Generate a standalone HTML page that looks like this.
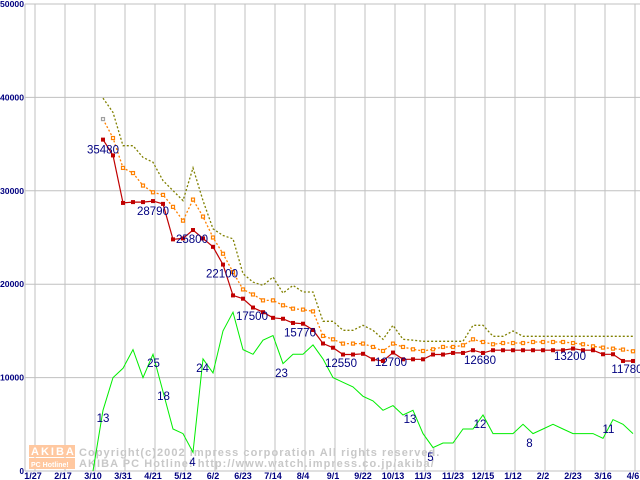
<!DOCTYPE html>
<html><head><meta charset="utf-8"><style>
body{margin:0;background:#fff}
svg{display:block}
text{font-family:"Liberation Sans","DejaVu Sans",sans-serif}
</style></head><body>
<svg id="chart" width="640" height="480" viewBox="0 0 640 480" xmlns="http://www.w3.org/2000/svg">
<g id="grid"></g>
<g id="wm">
 <rect x="29" y="445" width="46" height="12" fill="#ffc8a0"/>
 <rect x="29" y="458" width="46" height="11" fill="#ffc8a0"/>
 <text x="31" y="455" font-size="11" font-weight="bold" fill="#fff" letter-spacing="2">AKIBA</text>
 <text x="31" y="467" font-size="7" font-weight="bold" fill="#fff">PC Hotline!</text>
 <text x="79" y="456" font-family="Liberation Mono,monospace" font-size="11" font-weight="bold" fill="#c8c8c8" letter-spacing="1.05">Copyright(c)2002 impress corporation All rights reserved.</text>
 <text x="79" y="467" font-family="Liberation Mono,monospace" font-size="11" font-weight="bold" fill="#c8c8c8" letter-spacing="1.05">AKIBA PC Hotline!  http://www.watch.impress.co.jp/akiba/</text>
</g>
<g id="series"></g>
<g id="labels"></g>
</svg>
<script>
const xLabels=["1/27","2/17","3/10","3/31","4/21","5/12","6/2","6/23","7/14","8/4","9/1","9/22","10/13","11/3","11/23","12/15","1/12","2/2","2/23","3/16","4/6"];
const yTicks=[0,10000,20000,30000,40000,50000];
const startWeek=7;
const minPrice=[35480,33790,28700,28790,28790,28900,28600,24800,24900,25800,24900,24000,22100,18800,18450,17500,17000,16400,16300,15850,15770,15100,13650,13200,12470,12470,12550,11960,11780,12680,11960,11960,11960,12470,12470,12640,12640,12930,12640,12930,12930,12930,12930,12930,12930,12930,12930,13110,12930,12930,12500,12500,11780,11780];
const avgPrice=[37680,35650,32450,31900,30560,29840,29560,28280,26800,29060,27240,25000,23260,21300,19440,18900,18270,18270,17740,17380,17280,17090,14460,14100,13640,13640,13640,13280,12850,13640,13280,13030,12850,13030,13280,13280,13460,14100,13810,13570,13700,13700,13700,13810,13810,13810,13810,13700,13570,13350,13210,13100,13000,12820];
const maxPrice=[39920,38390,34830,34830,33580,33050,31090,30020,28950,32450,28950,25930,25210,24860,21120,20230,19870,20760,19050,19870,19160,19160,16030,16030,15060,15060,15600,15060,14100,15600,14100,14000,13890,13890,13890,13890,13890,15600,15600,14420,14420,14990,14420,14420,14420,14420,14420,14420,14420,14420,14420,14420,14420,14420];
const shopStart=6;
const shopCount=[0,13,20,22,26,20,25,17,9,8,4,24,21,30,34,26,25,28,29,23,25,25,27,24,20,19,18,16,15,13,14,12,13,8,5,6,6,9,9,12,8,8,8,10,8,9,10,9,8,8,8,7,11,10,8];
const priceLabels=[[7,"35480",0,14],[10,"28790",20,13],[16,"25800",-1,13],[19,"22100",-1,13],[22,"17500",-1,12.5],[27,"15770",-3,13],[31,"12550",-2,12.5],[36,"12700",-2,13.5],[45,"12680",-3,11],[54,"13200",-3,11.5],[60,"11780",-6,12]];
const shopLabels=[[7,"13",0,11.7],[12,"25",0.5,12.7],[13,"18",0.5,8.4],[16,"4",-0.5,13.7],[17,"24",-0.5,13],[25,"23",-1.5,13.4],[38,"13",-3,12.7],[40,"5",-2.5,13.3],[45,"12",-3,13],[50,"8",-3.5,13.4],[58,"11",-4.5,13.4]];
const NS="http://www.w3.org/2000/svg";
function X(w){return 33+10*w;}
function Y(v){return 4+(50000-v)*467/50000;}
function YS(c){return 471-c*4.67;}
function mk(tag,attrs,parent){const e=document.createElementNS(NS,tag);for(const k in attrs)e.setAttribute(k,attrs[k]);parent.appendChild(e);return e;}
const grid=document.getElementById('grid'),ser=document.getElementById('series'),lab=document.getElementById('labels');
yTicks.forEach(v=>{
 const l=mk('line',{x1:25,x2:640,y1:Y(v),y2:Y(v),stroke:'#c0c0c0','stroke-width':1},grid);
 
 
 const s=String(v);
 const a={x:24,y:Y(v)+3,'text-anchor':'end','font-size':8,'font-weight':'bold',fill:'#000080'};
 if(s.length>1){a.textLength=24;a.lengthAdjust='spacingAndGlyphs';}
 const t=mk('text',a,grid);
 t.textContent=s;
 
 
});
mk('line',{x1:25,x2:25,y1:4,y2:471,stroke:'#c0c0c0'},grid);
xLabels.forEach((s,i)=>{
 const w=i*3;
 const l=mk('line',{x1:X(w)+2,x2:X(w)+2,y1:4,y2:471,stroke:'#c0c0c0'},grid);
 
 
 const t=mk('text',{x:X(w),y:479,'text-anchor':'middle','font-size':9,'font-weight':'bold',fill:'#000080'},grid);
 t.textContent=s;
 
 
});
function pts(arr,start,fy){return arr.map((v,i)=>X(start+i)+','+fy(v).toFixed(1)).join(' ');}
let p=mk('polyline',{points:pts(shopCount,shopStart,YS),fill:'none',stroke:'#00ee00','stroke-width':1},ser);


p=mk('polyline',{points:pts(maxPrice,startWeek,Y),fill:'none',stroke:'#808000','stroke-width':1.3,'stroke-dasharray':'2,2'},ser);


p=mk('polyline',{points:pts(avgPrice,startWeek,Y),fill:'none',stroke:'#ff8000','stroke-width':1.3,'stroke-dasharray':'2,2'},ser);


avgPrice.forEach((v,i)=>{
 const r=mk('rect',{x:X(startWeek+i)-1.5,y:Y(v)-1.5,width:3,height:3,fill:'#fff',stroke:i===0?'#a0a0a0':'#ff8000','stroke-width':1.2},ser);
 
 
});
p=mk('polyline',{points:pts(minPrice,startWeek,Y),fill:'none',stroke:'#c00000','stroke-width':1.2},ser);


minPrice.forEach((v,i)=>{
 const r=mk('rect',{x:X(startWeek+i)-2,y:Y(v)-2,width:4,height:4,fill:'#c00000'},ser);
 
 
});
priceLabels.forEach(([w,s,dx,dy])=>{
 const v=minPrice[w-startWeek];
 const t=mk('text',{x:X(w)+dx,y:Y(v)+dy,'text-anchor':'middle','font-size':11.5,fill:'#000080'},lab);
 t.textContent=s;
 
 
});
shopLabels.forEach(([w,s,dx,dy])=>{
 const c=shopCount[w-shopStart];
 const t=mk('text',{x:X(w)+dx,y:YS(c)+dy,'text-anchor':'middle','font-size':11.5,fill:'#000080'},lab);
 t.textContent=s;
 
 
});
</script>
</body></html>
